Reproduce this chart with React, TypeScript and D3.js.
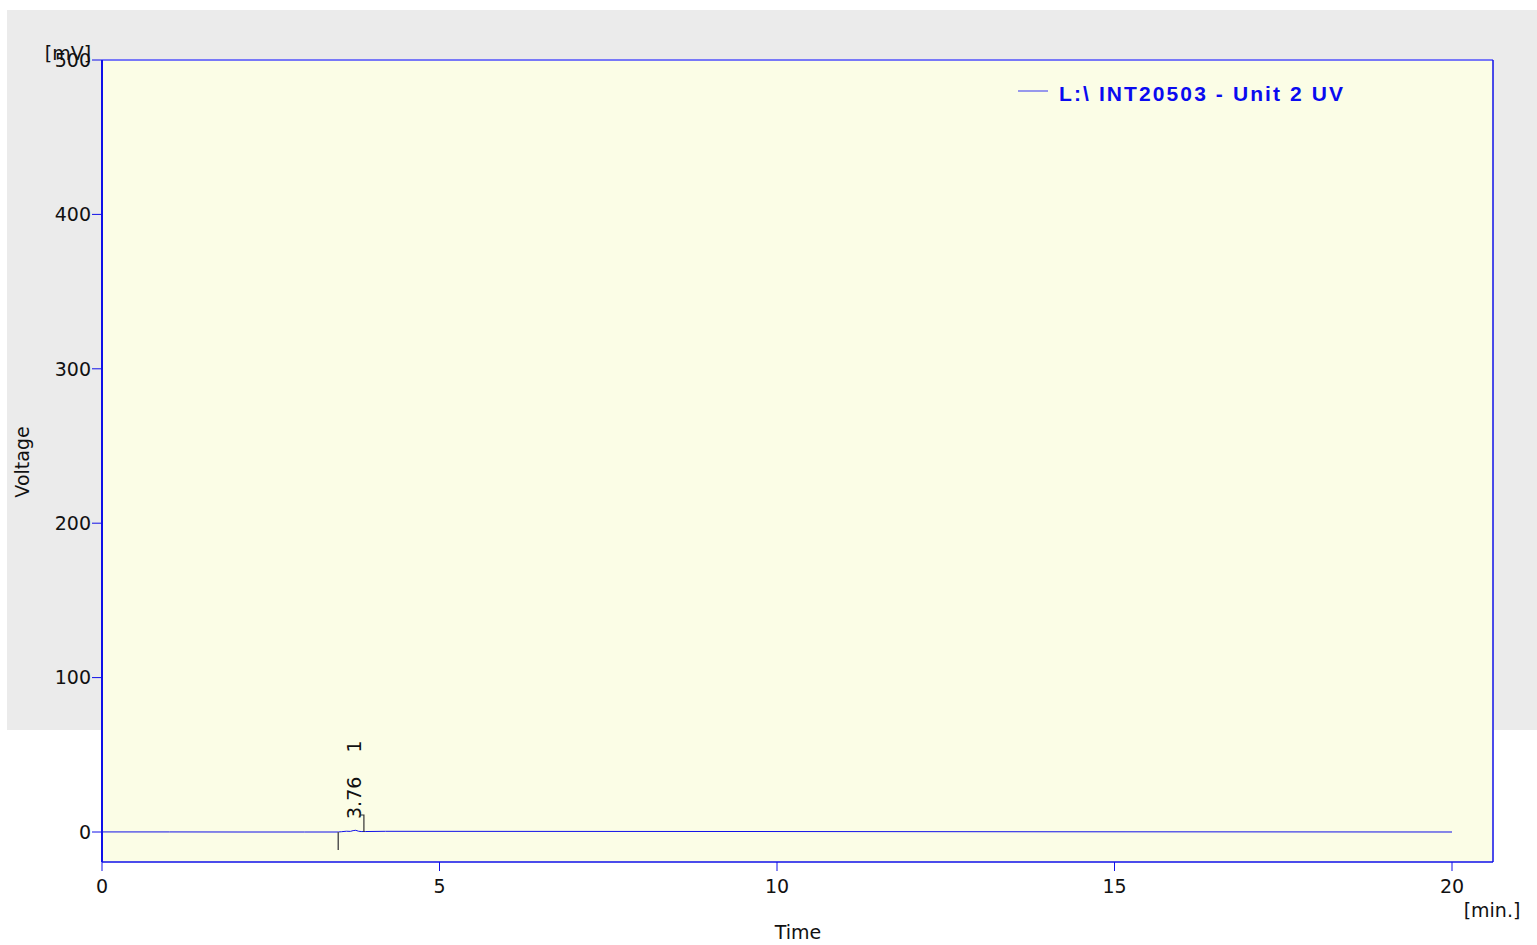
import React from "react";
import * as d3 from "d3";

const times = [0, 1, 2, 3, 3.5, 3.55, 3.62, 3.68, 3.72, 3.76, 3.8, 3.84, 3.9, 4.2, 6, 10, 14, 18, 20];
const voltages = [0.05, 0.05, 0.0, 0.0, 0.0, 0.2, 0.5, 0.4, 0.9, 1.1, 0.5, 0.3, 0.3, 0.45, 0.4, 0.3, 0.15, 0.05, 0.0];
const xTicks = [0, 5, 10, 15, 20];
const yTicks = [0, 100, 200, 300, 400, 500];
const peakTimes = [3.76];
const peakLabels = ["3.76    1"];
const baselineStart = [3.5];
const baselineEnd = [3.88];
const legendLabel = "L:\\ INT20503 - Unit 2 UV";

export default function App() {
  const W = 1537, H = 945;
  const left = 102, right = 1493, top = 60, bottom = 862;
  const x = d3.scaleLinear().domain([0, 20]).range([102, 1452]);
  const y = d3.scaleLinear().domain([0, 500]).range([832, 60]);
  const line = d3.line<number>().x((_, i) => x(times[i])).y((v) => y(v));
  const font = "'DejaVu Sans', Verdana, sans-serif";
  return (
    <svg width={W} height={H} style={{ position: "absolute", left: 0, top: 0 }}>
      <rect x={7} y={10} width={1530} height={720} fill="#EBEBEB" />
      <rect x={left} y={top} width={right - left} height={bottom - top} fill="#FBFDE6" />
      {/* frame */}
      <line x1={left} y1={top} x2={right} y2={top} stroke="#7878F8" strokeWidth={2} />
      <line x1={right} y1={top} x2={right} y2={bottom} stroke="#1010E8" strokeWidth={1.5} />
      <line x1={left} y1={bottom} x2={right} y2={bottom} stroke="#1010E8" strokeWidth={1.5} />
      <line x1={left} y1={top} x2={left} y2={bottom} stroke="#1010E8" strokeWidth={2} />
      {yTicks.map((t) => (
        <g key={t}>
          <line x1={left - 10} x2={left} y1={y(t)} y2={y(t)} stroke="#1010E8" strokeWidth={1} />
          <text x={left - 11} y={y(t)} dy="0.36em" textAnchor="end" fontFamily={font} fontSize={19} fill="#111">{t}</text>
        </g>
      ))}
      {xTicks.map((t) => (
        <g key={t}>
          <line x1={x(t)} x2={x(t)} y1={bottom} y2={bottom + 9} stroke="#1010E8" strokeWidth={1} />
          <text x={x(t)} y={bottom + 31} textAnchor="middle" fontFamily={font} fontSize={19} fill="#111">{t}</text>
        </g>
      ))}
      <text x={68} y={60} textAnchor="middle" fontFamily={font} fontSize={19} fill="#111">[mV]</text>
      <text transform={`translate(29,462) rotate(-90)`} textAnchor="middle" fontFamily={font} fontSize={19} fill="#111">Voltage</text>
      <text x={798} y={939} textAnchor="middle" fontFamily={font} fontSize={19} fill="#111">Time</text>
      <text x={1492} y={917} textAnchor="middle" fontFamily={font} fontSize={19} fill="#111">[min.]</text>
      {/* trace */}
      <path d={line(voltages) || ""} fill="none" stroke="#1010E8" strokeWidth={1} />
      {/* baseline markers */}
      {baselineStart.map((t, i) => (
        <line key={"s" + i} x1={x(t)} x2={x(t)} y1={y(0)} y2={y(0) + 18} stroke="#555" strokeWidth={1.5} />
      ))}
      {baselineEnd.map((t, i) => (
        <path key={"e" + i} d={`M${x(t)},${y(0)} V${y(0) - 17} h-3`} fill="none" stroke="#333" strokeWidth={1.2} />
      ))}
      {peakTimes.map((t, i) => (
        <text key={"p" + i} transform={`translate(${x(t) + 5},${y(0) - 13}) rotate(-90)`} fontFamily={font} fontSize={19} fill="#111" style={{ whiteSpace: "pre" }}>{peakLabels[i]}</text>
      ))}
      {/* legend */}
      <line x1={1018} x2={1048} y1={91} y2={91} stroke="#5555F0" strokeWidth={1.2} />
      <text x={1059} y={101} fontFamily="'Liberation Sans', Arial, sans-serif" fontWeight="bold" fontSize={21} letterSpacing={2.1} fill="#0A0AF0" style={{ whiteSpace: "pre" }}>{legendLabel}</text>
    </svg>
  );
}
